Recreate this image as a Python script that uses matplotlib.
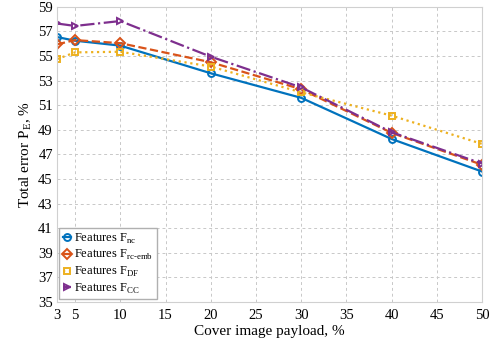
import matplotlib
matplotlib.use("Agg")
import matplotlib.pyplot as plt

# Cover image payload, % and total error for each feature set
payload = [3, 5, 10, 20, 30, 40, 50]
err_nc = [56.55, 56.25, 55.85, 53.6, 51.6, 48.25, 45.6]
err_rc_emb = [55.95, 56.3, 56.05, 54.5, 52.3, 48.75, 46.15]
err_df = [54.75, 55.3, 55.35, 54.15, 52.05, 50.15, 47.85]
err_cc = [57.65, 57.45, 57.85, 54.95, 52.45, 48.8, 46.25]

x_ticks = [3, 5, 10, 15, 20, 25, 30, 35, 40, 45, 50]
y_ticks = list(range(35, 60, 2))

plt.rcParams["font.family"] = ["Liberation Serif", "DejaVu Serif"]
plt.rcParams["mathtext.fontset"] = "custom"
plt.rcParams["mathtext.rm"] = "Liberation Serif"

fig = plt.figure(figsize=(4.91, 3.45), dpi=100)
ax = fig.add_axes([0.116, 0.125, 0.866, 0.855])

series = [
    (err_nc, "#0072BD", "-", "o", r"Features F$_\mathregular{nc}$"),
    (err_rc_emb, "#D95319", "--", "D", r"Features F$_\mathregular{rc\text{-}emb}$"),
    (err_df, "#EDB120", ":", "s", r"Features F$_\mathregular{DF}$"),
    (err_cc, "#7E2F8E", "-.", ">", r"Features F$_\mathregular{CC}$"),
]
for vals, col, ls, mk, lab in series:
    ax.plot(payload, vals, color=col, linestyle=ls, marker=mk, markersize=5,
            markerfacecolor="none", markeredgewidth=1.4, linewidth=1.6, label=lab)

ax.set_xlim(3, 50)
ax.set_ylim(35, 59)
ax.set_xticks(x_ticks)
ax.set_yticks(y_ticks)
ax.tick_params(axis="x", labelsize=10.5, length=0, pad=5)
ax.tick_params(axis="y", labelsize=10.5, length=0, pad=3)
ax.grid(True, linestyle=(0, (3, 3)), color="#c8c8c8", linewidth=0.7)
for s in ax.spines.values():
    s.set_color("#d0d0d0")
    s.set_linewidth(0.8)

ax.set_xlabel("Cover image payload, %", fontsize=11, labelpad=2)
ax.set_ylabel(r"Total error P$_\mathregular{E}$, %", fontsize=11, labelpad=3)

leg = ax.legend(loc="lower left", fontsize=9, handlelength=0.6, handletextpad=0.3,
                borderaxespad=0.2, labelspacing=0.2, borderpad=0.3,
                fancybox=False, edgecolor="#b0b0b0", framealpha=1)

fig.savefig("out.png", dpi=100)
